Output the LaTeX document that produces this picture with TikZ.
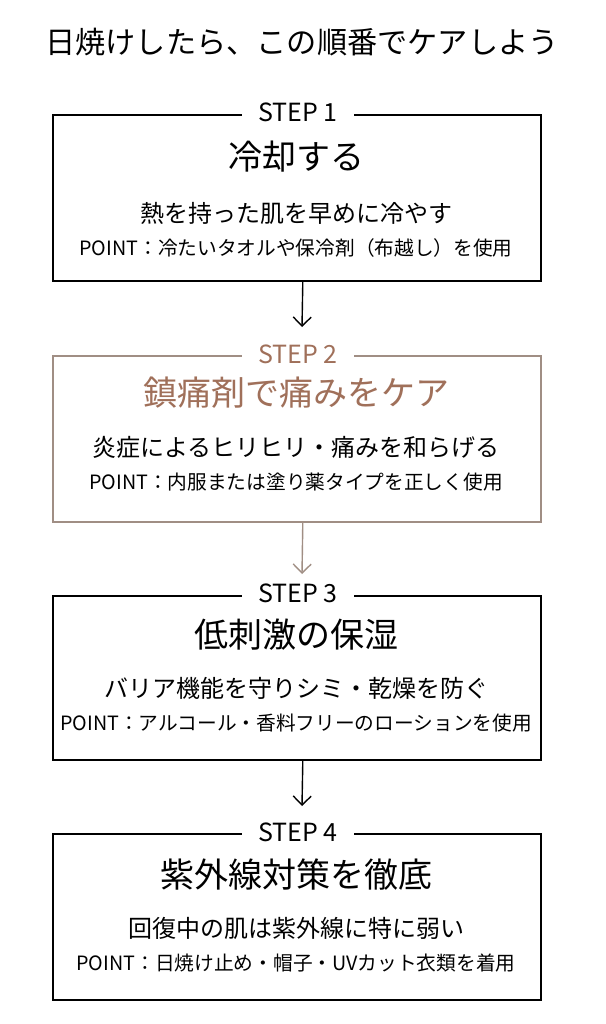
\documentclass[tikz,border=0pt]{standalone}
\usepackage{fontspec}
\setmainfont{Noto Sans CJK JP}
\usetikzlibrary{arrows.meta}
\definecolor{brtext}{HTML}{A0705A}
\definecolor{brline}{HTML}{A08E84}
\tikzset{
  stepbox/.style={draw=black, line width=1.6pt, minimum width=488pt, minimum height=166pt, inner sep=0pt},
  steplabel/.style={fill=white, inner xsep=16pt, inner ysep=1pt, font=\fontsize{25}{28}\selectfont},
  ttl/.style={font=\fontsize{34}{38}\selectfont},
  sub/.style={font=\fontsize{24}{27}\selectfont},
  pnt/.style={font=\fontsize{19.7}{22}\selectfont},
  arr/.style={line width=1.4pt, -{Straight Barb[length=9pt,width=18pt,line width=1.4pt]}},
}
\begin{document}
\begin{tikzpicture}[x=1pt,y=-1pt]
\useasboundingbox[fill=white] (0,0) rectangle (605,1024);
\node[font=\fontsize{30.2}{33}\selectfont] (title) at (302,42) {日焼けしたら、この順番でケアしよう};

% STEP 1
\node[stepbox, anchor=north west] (b1) at (52,114) {};
\node[steplabel] (s1) at (298,112) {STEP 1};
\node[ttl] (t1) at (296,157) {冷却する};
\node[sub] (u1) at (296,213) {熱を持った肌を早めに冷やす};
\node[pnt] (p1) at (296,248) {POINT：冷たいタオルや保冷剤（布越し）を使用};

% STEP 2
\node[stepbox, draw=brline, anchor=north west] (b2) at (52,355) {};
\node[steplabel, text=brtext] (s2) at (298,354) {STEP 2};
\node[ttl, text=brtext] (t2) at (296,393) {鎮痛剤で痛みをケア};
\node[sub] (u2) at (296,447) {炎症によるヒリヒリ・痛みを和らげる};
\node[pnt] (p2) at (296,482) {POINT：内服または塗り薬タイプを正しく使用};

% STEP 3
\node[stepbox, anchor=north west, minimum height=164pt] (b3) at (52,595) {};
\node[steplabel] (s3) at (298,593) {STEP 3};
\node[ttl] (t3) at (296,635) {低刺激の保湿};
\node[sub] (u3) at (296,688) {バリア機能を守りシミ・乾燥を防ぐ};
\node[pnt] (p3) at (296,723) {POINT：アルコール・香料フリーのローションを使用};

% STEP 4
\node[stepbox, anchor=north west] (b4) at (52,833) {};
\node[steplabel] (s4) at (298,832) {STEP 4};
\node[ttl] (t4) at (296,875) {紫外線対策を徹底};
\node[sub] (u4) at (296,928) {回復中の肌は紫外線に特に弱い};
\node[pnt] (p4) at (296,963) {POINT：日焼け止め・帽子・UVカット衣類を着用};

% arrows
\coordinate (e1) at (302,327);
\coordinate (e2) at (302,574);
\coordinate (e3) at (302,806);
\draw[arr] ([xshift=6pt]b1.south) -- (e1);
\draw[arr, draw=brline] ([xshift=6pt]b2.south) -- (e2);
\draw[arr] ([xshift=6pt]b3.south) -- (e3);
\end{tikzpicture}
\end{document}
